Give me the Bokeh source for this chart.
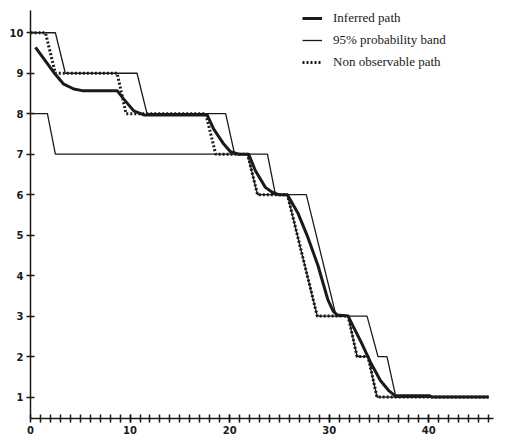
from bokeh.plotting import figure
from bokeh.models import Range1d, FixedTicker, Legend, LegendItem
from bokeh.embed import file_html
from bokeh.resources import INLINE

# Inferred path (posterior mean)
path_x = [0.5, 2.34, 3.34, 4.35, 5.19, 8.70, 9.37, 10.37, 11.38, 17.74, 18.40, 19.41,
          20.08, 20.91, 21.92, 22.59, 23.59, 24.27, 24.93, 25.80, 26.85, 27.85, 28.87,
          29.87, 30.4, 30.8, 31.9, 32.46, 33.30, 34.14, 35.14, 35.97, 36.65, 40.1, 40.3, 46.0]
path_y = [9.64, 9.02, 8.73, 8.61, 8.57, 8.57, 8.36, 8.07, 7.97, 7.97, 7.62, 7.25,
          7.06, 7.0, 7.0, 6.59, 6.18, 6.06, 6.0, 6.0, 5.55, 4.95, 4.25,
          3.40, 3.12, 3.03, 3.0, 2.72, 2.31, 1.86, 1.41, 1.16, 1.03, 1.03, 1.0, 1.0]

# 95% probability band: upper and lower limits
upper_x = [0, 2.5, 3.5, 10.7, 11.7, 19.6, 20.5, 23.8, 24.6, 27.7, 30.7, 33.8, 34.9, 35.8, 36.7, 46.0]
upper_y = [10, 10, 9, 9, 8, 8, 7, 7, 6, 6, 3, 3, 2, 2, 1, 1]
lower_x = [0, 1.7, 2.5, 21.8, 22.8, 25.8, 28.8, 31.9, 32.8, 33.9, 34.8, 46.0]
lower_y = [8, 8, 7, 7, 6, 6, 3, 3, 2, 2, 1, 1]

# Non observable path
dotted_x = [0, 1.5, 2.5, 8.7, 9.6, 17.6, 18.6, 21.8, 22.8, 25.8, 28.8, 31.9, 32.8, 33.9, 34.8, 46.0]
dotted_y = [10, 10, 9, 9, 8, 8, 7, 7, 6, 6, 3, 3, 2, 2, 1, 1]

x_major = [0, 10, 20, 30, 40]
x_minor = list(range(1, 47))
y_ticks = [1, 2, 3, 4, 5, 6, 7, 8, 9, 10]
labels = ["Inferred path", "95% probability band", "Non observable path"]

INK = "#1a1a1a"

p = figure(width=503, height=439, output_backend="svg", toolbar_location=None,
           x_range=Range1d(0, 46.5), y_range=Range1d(0.47, 10.55),
           min_border_left=30, min_border_right=10, min_border_top=10, min_border_bottom=21)
p.outline_line_color = None
p.grid.visible = False
p.background_fill_color = "white"
p.border_fill_color = "white"

r_up = p.line(upper_x, upper_y, line_color=INK, line_width=1.3)
r_lo = p.line(lower_x, lower_y, line_color=INK, line_width=1.3)
r_dot = p.line(dotted_x, dotted_y, line_color=INK, line_width=3, line_dash="2 2")
r_path = p.line(path_x, path_y, line_color=INK, line_width=3)

p.xaxis.ticker = FixedTicker(ticks=x_major, minor_ticks=x_minor)
p.yaxis.ticker = FixedTicker(ticks=y_ticks)

for ax in (p.xaxis[0], p.yaxis[0]):
    ax.axis_line_width = 1.5
    ax.axis_line_color = INK
    ax.major_tick_line_color = INK
    ax.major_tick_line_width = 1.5
    ax.major_tick_in = 4
    ax.major_tick_out = 4
    ax.major_label_text_font = "DejaVu Sans"
    ax.major_label_text_font_style = "bold"
    ax.major_label_text_font_size = "10px"
    ax.major_label_text_color = INK
    ax.major_label_standoff = 3

p.xaxis.minor_tick_line_color = INK
p.xaxis.minor_tick_line_width = 1.5
p.xaxis.minor_tick_in = 4
p.xaxis.minor_tick_out = 4
p.yaxis.minor_tick_line_color = None

legend = Legend(items=[LegendItem(label=labels[0], renderers=[r_path]),
                       LegendItem(label=labels[1], renderers=[r_up]),
                       LegendItem(label=labels[2], renderers=[r_dot])],
                location=(272, 348))
legend.label_text_font = "'Liberation Serif', 'Times New Roman', serif"
legend.label_text_font_size = "13px"
legend.label_text_color = INK
legend.border_line_color = None
legend.background_fill_alpha = 0
legend.padding = 0
legend.margin = 0
legend.spacing = 6
legend.glyph_width = 20
legend.glyph_height = 16
legend.label_height = 16
legend.label_standoff = 11
p.add_layout(legend)

open("out.html", "w").write(file_html(p, INLINE))
